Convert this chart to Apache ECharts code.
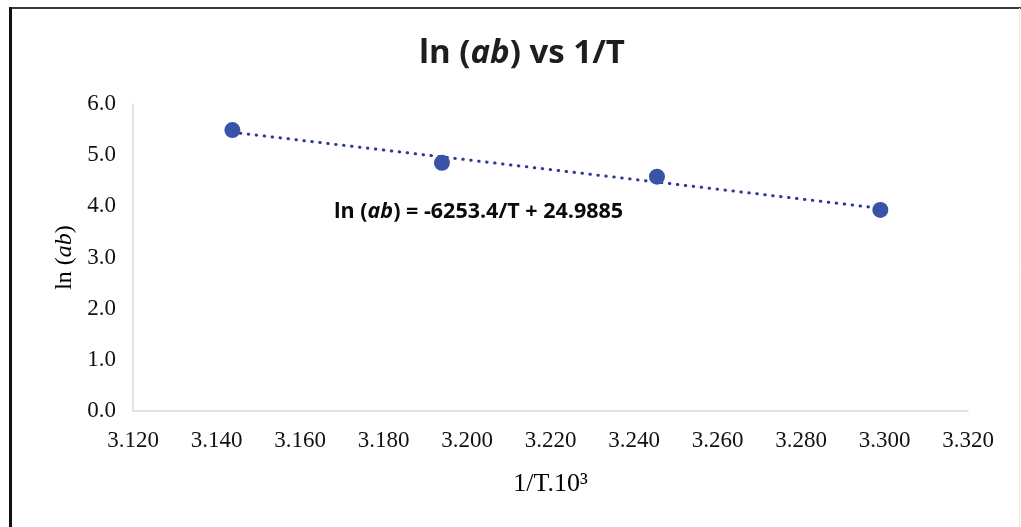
<!DOCTYPE html>
<html><head><meta charset="utf-8">
<script src="https://cdn.jsdelivr.net/npm/echarts@6/dist/echarts.min.js"></script>
<style>html,body{margin:0;padding:0;background:#fff}#c{width:1021px;height:527px}</style>
</head><body><div id="c"></div>
<script>
// Data
var invT = [3.1438, 3.1940, 3.2455, 3.2990];   // 1/T · 10^3
var lnAB = [5.49, 4.85, 4.58, 3.93];            // ln(ab)
var xTicks = [3.12, 3.32, 0.02];                // min, max, interval
var yTicks = [0, 6, 1];
var titleText = ['ln (', 'ab', ') vs 1/T'];
var eqText = ['ln (', 'ab', ') = -6253.4/T + 24.9885'];
var yName = ['ln (', 'ab', ')'];
var xName = '1/T.10³';

// least-squares trendline through the data
var n = invT.length, sx = 0, sy = 0, sxx = 0, sxy = 0;
for (var i = 0; i < n; i++) { sx += invT[i]; sy += lnAB[i]; sxx += invT[i]*invT[i]; sxy += invT[i]*lnAB[i]; }
var slope = (n*sxy - sx*sy) / (n*sxx - sx*sx);
var icpt = (sy - slope*sx) / n;
var trend = [[invT[0], slope*invT[0]+icpt], [invT[n-1], slope*invT[n-1]+icpt]];

var pts = invT.map(function (x, i) { return [x, lnAB[i]]; });
var serif = 'Liberation Serif';
var chart = echarts.init(document.getElementById('c'));
chart.setOption({
  animation: false,
  backgroundColor: '#fff',
  title: [{
    left: 414, top: 32,
    text: '{a|' + titleText[0] + '}{b|' + titleText[1] + '}{a|' + titleText[2] + '}',
    textStyle: { rich: {
      a: { fontFamily: 'Open Sans', fontWeight: 'bold', fontSize: 33, color: '#1e1e1e' },
      b: { fontFamily: 'Open Sans', fontWeight: 'bold', fontStyle: 'italic', fontSize: 33, color: '#1e1e1e' }
    } }
  }, {
    left: 329, top: 196,
    text: '{a|' + eqText[0] + '}{b|' + eqText[1] + '}{a|' + eqText[2] + '}',
    textStyle: { rich: {
      a: { fontFamily: 'Open Sans', fontWeight: 'bold', fontSize: 21.5, color: '#0a0a0a', letterSpacing: -0.3 },
      b: { fontFamily: 'Open Sans', fontWeight: 'bold', fontStyle: 'italic', fontSize: 21.5, color: '#0a0a0a' }
    } }
  }],
  graphic: [
    { type: 'line', shape: { x1: 10, y1: 8, x2: 1021, y2: 8 }, style: { stroke: '#3a3a3a', lineWidth: 2 }, silent: true },
    { type: 'line', shape: { x1: 10.5, y1: 7, x2: 10.5, y2: 527 }, style: { stroke: '#111', lineWidth: 3 }, silent: true },
    { type: 'line', shape: { x1: 1019.5, y1: 8, x2: 1019.5, y2: 527 }, style: { stroke: '#e6e6e6', lineWidth: 1 }, silent: true }
  ],
  grid: { left: 133, right: 53, top: 104, bottom: 116 },
  xAxis: {
    type: 'value', min: xTicks[0], max: xTicks[1], interval: xTicks[2],
    name: xName, nameLocation: 'middle', nameGap: 60,
    nameTextStyle: { fontFamily: serif, fontSize: 26, color: '#000' },
    axisLine: { show: true, lineStyle: { color: '#d9d9d9', width: 1.5 } },
    axisTick: { show: false },
    splitLine: { show: false },
    axisLabel: { margin: 18, fontFamily: serif, fontSize: 23, color: '#111',
      formatter: function (v) { return v.toFixed(3); } }
  },
  yAxis: {
    type: 'value', min: yTicks[0], max: yTicks[1], interval: yTicks[2],
    name: '{a|' + yName[0] + '}{b|' + yName[1] + '}{a|' + yName[2] + '}',
    nameLocation: 'middle', nameGap: 54,
    nameTextStyle: { rich: {
      a: { fontFamily: serif, fontSize: 24, color: '#000' },
      b: { fontFamily: serif, fontSize: 24, fontStyle: 'italic', color: '#000' }
    } },
    axisLine: { show: true, lineStyle: { color: '#d9d9d9', width: 1.5 } },
    axisTick: { show: false },
    splitLine: { show: false },
    axisLabel: { margin: 17, fontFamily: serif, fontSize: 23, color: '#111',
      formatter: function (v) { return v.toFixed(1); } }
  },
  series: [{
    type: 'line', data: trend, symbol: 'none', silent: true,
    lineStyle: { color: '#2e3a94', width: 3, type: [0.5, 7.5], cap: 'round' }, z: 1
  }, {
    type: 'scatter', data: pts, symbol: 'circle', symbolSize: 16,
    itemStyle: { color: '#3953a7', opacity: 1 }, z: 3
  }]
});
</script></body></html>
